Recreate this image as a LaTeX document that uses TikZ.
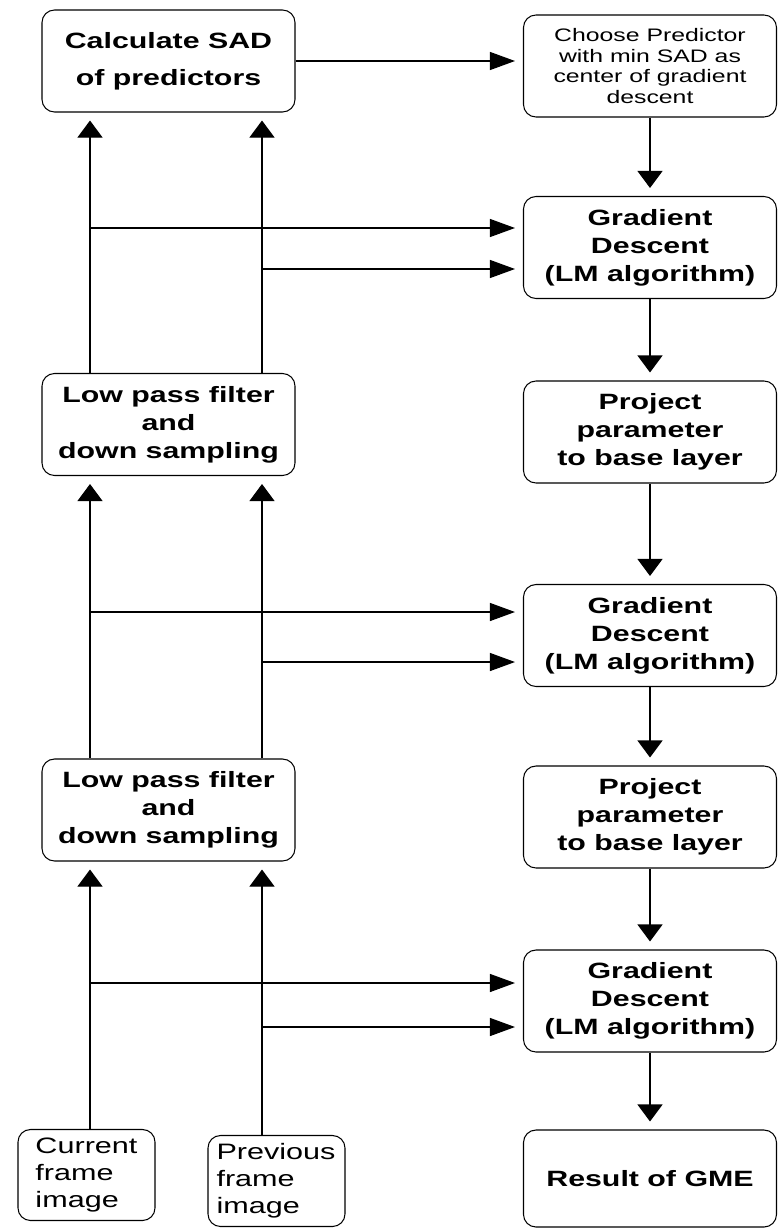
\documentclass[tikz,border=0pt]{standalone}
\usepackage{fontspec}
\setmainfont[FakeStretch=1.37]{Liberation Sans}
\usetikzlibrary{arrows.meta,positioning}

\begin{document}
\begin{tikzpicture}[line width=0.6pt,shorten >=0.16cm,node distance=3.6cm,
  box/.style={draw,rounded corners=0.25cm,minimum width=5.06cm,minimum height=2.04cm,inner sep=0pt,align=center,font=\fontsize{12.6}{15.9}\selectfont\bfseries},
  thinbox/.style={box,font=\fontsize{10.3}{11.9}\selectfont},
  framebox/.style={draw,rounded corners=0.25cm,minimum width=2.74cm,minimum height=1.82cm,inner sep=0pt,align=left,font=\fontsize{12.7}{15.4}\selectfont},
  vtip/.style={-{Triangle[length=0.34cm,width=0.5cm]}},
  htip/.style={-{Triangle[length=0.5cm,width=0.36cm]}}]

\useasboundingbox (0,0) rectangle (15.64,-24.56);

\node[box]     (sad)    at (3.37,-1.22)   {Calculate SAD\\[0.18cm]of predictors};
\node[thinbox] (choose) at (13.0,-1.32)   {Choose Predictor\\with min SAD as\\center of gradient\\descent};
\node[box]     (gdA)   [below of=choose, node distance=3.63cm] {Gradient\\Descent\\(LM algorithm)};
\node[box]     (projA) [below of=gdA,    node distance=3.69cm] {Project\\parameter\\to base layer};
\node[box]     (gdB)   [below of=projA,  node distance=4.07cm] {Gradient\\Descent\\(LM algorithm)};
\node[box]     (projB) [below of=gdB,    node distance=3.63cm] {Project\\parameter\\to base layer};
\node[box]     (gdC)   [below of=projB,  node distance=3.68cm] {Gradient\\Descent\\(LM algorithm)};
\node[box,minimum height=1.94cm] (gme) [below of=gdC, node distance=3.55cm] {Result of GME};

\node[box]     (lpfA)  [below of=sad,    node distance=7.27cm] {Low pass filter\\and\\down sampling};
\node[box]     (lpfB)  [below of=lpfA,   node distance=7.71cm] {Low pass filter\\and\\down sampling};
\node[framebox,text width=2.04cm] (cur)  at (1.73,-23.5)  {Current\\frame\\image};
\node[framebox,text width=2.4cm]  (prev) at (5.53,-23.62) {Previous\\frame\\image};

% the two frame columns
\coordinate (c) at (1.8,0);
\coordinate (p) at (5.24,0);

% inputs of the gradient descent boxes
\coordinate (gdA1) at ([yshift=0.39cm]gdA.west);
\coordinate (gdA2) at ([yshift=-0.43cm]gdA.west);
\coordinate (gdB1) at ([yshift=0.47cm]gdB.west);
\coordinate (gdB2) at ([yshift=-0.53cm]gdB.west);
\coordinate (gdC1) at ([yshift=0.36cm]gdC.west);
\coordinate (gdC2) at ([yshift=-0.52cm]gdC.west);

\path[vtip] (choose) edge (gdA)
            (gdA)    edge (projA)
            (projA)  edge (gdB)
            (gdB)    edge (projB)
            (projB)  edge (gdC)
            (gdC)    edge (gme);

\path[htip] (sad) edge (choose.west |- sad);

\path[vtip] (cur.north -| c)   edge (lpfB.south -| c)
            (prev.north -| p)  edge (lpfB.south -| p)
            (lpfB.north -| c)  edge (lpfA.south -| c)
            (lpfB.north -| p)  edge (lpfA.south -| p)
            (lpfA.north -| c)  edge (sad.south -| c)
            (lpfA.north -| p)  edge (sad.south -| p);

\path[htip] (c |- gdA1) edge (gdA1)
            (p |- gdA2) edge (gdA2)
            (c |- gdB1) edge (gdB1)
            (p |- gdB2) edge (gdB2)
            (c |- gdC1) edge (gdC1)
            (p |- gdC2) edge (gdC2);

\end{tikzpicture}
\end{document}
